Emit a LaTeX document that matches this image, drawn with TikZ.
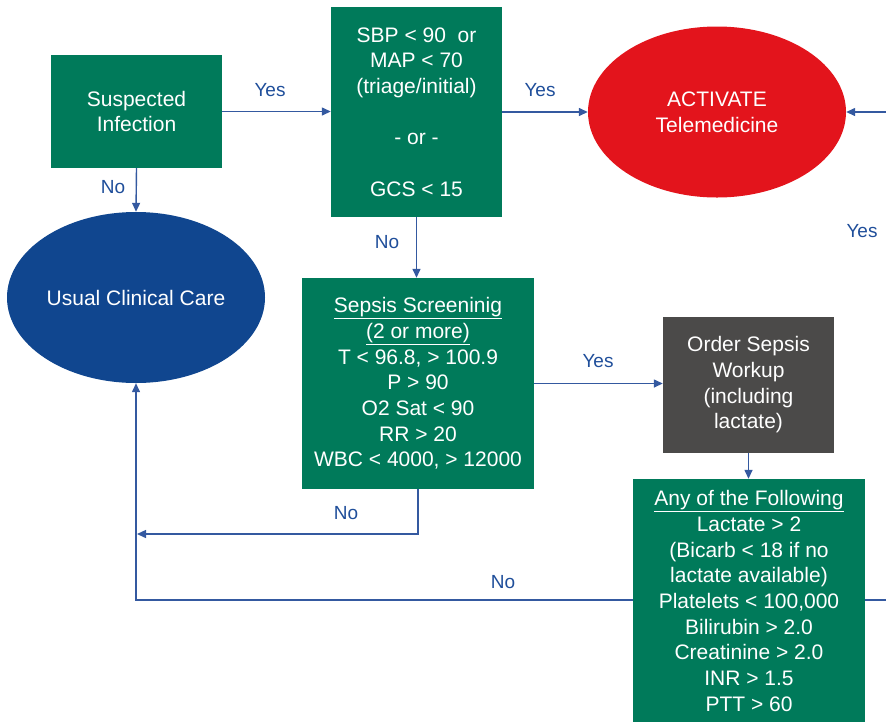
\documentclass[tikz,border=0pt]{standalone}
\usepackage{fontspec}
\setmainfont{Liberation Sans}
\usetikzlibrary{arrows.meta,shapes.geometric}

\definecolor{boxgreen}{HTML}{007A5A}
\definecolor{alertred}{HTML}{E3141C}
\definecolor{careblue}{HTML}{10468F}
\definecolor{linkblue}{HTML}{3459A0}
\definecolor{labelblue}{HTML}{1F4E9A}
\definecolor{workgray}{HTML}{4B4A49}

\tikzset{
  base/.style={inner sep=0pt, text=white, align=center,
    font=\fontsize{21}{25.7}\selectfont},
  greenbox/.style={base, rectangle, fill=boxgreen},
  graybox/.style={base, rectangle, fill=workgray},
  oval/.style={base, ellipse, minimum width=258pt, minimum height=171pt},
  arr/.style={draw=linkblue, line width=1.4pt,
    -{Triangle[length=9pt,width=8pt]}},
  plain/.style={draw=linkblue, line width=1.4pt},
  lbl/.style={text=labelblue, font=\fontsize{19}{22}\selectfont, inner sep=0pt}
}

\begin{document}
\begin{tikzpicture}[x=1pt,y=-1pt]
  \useasboundingbox (0,0) rectangle (886,721);
  \clip (0,0) rectangle (886,721);

  % boxes and ovals
  \node[greenbox, minimum width=171pt, minimum height=113pt] (susp) at (136.5,111.5)
    {Suspected\\Infection};
  \node[greenbox, minimum width=171pt, minimum height=210pt] (sbp) at (416.5,112)
    {SBP < 90\ \ or\\MAP < 70\\(triage/initial)\\[\baselineskip]- or -\\[\baselineskip]GCS < 15};
  \node[oval, fill=alertred] (act) at (717,112) {ACTIVATE\\Telemedicine};
  \node[oval, fill=careblue] (usual) at (136,297.5) {Usual Clinical Care};
  \node[greenbox, minimum width=232pt, minimum height=211pt] (sepsis) at (418,383.5)
    {\underline{Sepsis Screeninig}\\\underline{(2 or more)}\\T < 96.8, > 100.9\\P > 90\\O2 Sat < 90\\RR > 20\\WBC < 4000, > 12000};
  \node[graybox, minimum width=171pt, minimum height=136pt] (order) at (748.5,385)
    {Order Sepsis\\Workup\\(including\\lactate)};
  \node[greenbox, minimum width=232pt, minimum height=244pt] (any) at (749,601)
    {\underline{Any of the Following}\\Lactate > 2\\(Bicarb < 18 if no\\lactate available)\\Platelets < 100,000\\Bilirubin > 2.0\\Creatinine > 2.0\\INR > 1.5\\PTT > 60};

  % free ends of connectors
  \coordinate (rin) at (886,112);
  \coordinate (rout) at (886,600);
  \coordinate (backtop) at (137,534);

  % connectors
  \draw[arr] (susp.east) -- (susp.east -| sbp.west);
  \draw[arr] (sbp.east) -- (act.west);
  \draw[arr] (rin) -- (act.east);
  \draw[arr] (susp.south) -- (usual.north);
  \draw[arr] (sbp.south) -- (sbp.south |- sepsis.north);
  \draw[arr] (sepsis.east) -- (sepsis.east -| order.west);
  \draw[arr] (order.south) -- (order.south |- any.north);
  \draw[arr] (sepsis.south) |- (backtop);
  \draw[arr] (any.west |- rout) -| (usual.south);
  \draw[plain] (any.east |- rout) -- (rout);

  % connector labels
  \node[lbl] (l1) at (270,90) {Yes};
  \node[lbl] (l2) at (540,90) {Yes};
  \node[lbl] (l3) at (862,231) {Yes};
  \node[lbl] (l4) at (113,187) {No};
  \node[lbl] (l5) at (387,242) {No};
  \node[lbl] (l6) at (598,361) {Yes};
  \node[lbl] (l7) at (346,513) {No};
  \node[lbl] (l8) at (503,582) {No};
\end{tikzpicture}
\end{document}
